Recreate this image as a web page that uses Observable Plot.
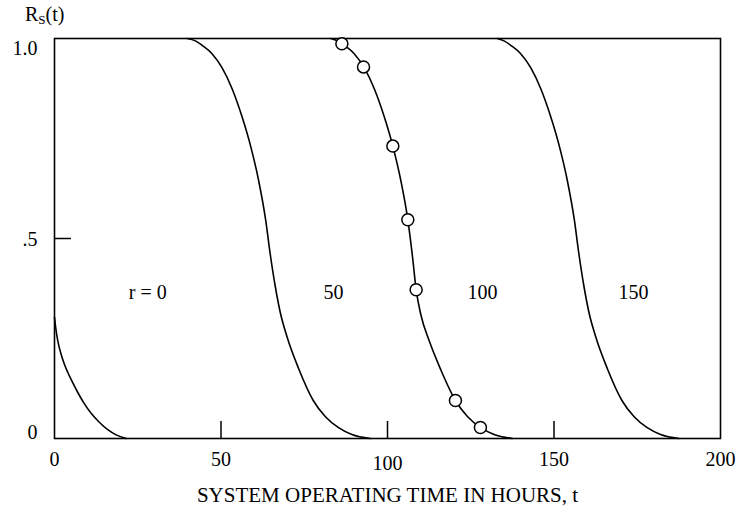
<!DOCTYPE html>
<html>
<head>
<meta charset="utf-8">
<script src="https://cdn.jsdelivr.net/npm/d3@7"></script>
<script src="https://cdn.jsdelivr.net/npm/@observablehq/plot@0.6"></script>
<style>
  body { margin: 0; background: #fff; }
  #wrap { position: relative; width: 740px; height: 509px; }
  #ytitle { position: absolute; left: 25px; top: 3px; font: 20px "Liberation Serif", "Times New Roman", serif; color: #000; line-height: 23px; }
  #ytitle sub { font-size: 13px; vertical-align: -3px; line-height: 0; }
</style>
</head>
<body>
<div id="wrap">
  <div id="ytitle">R<sub>S</sub>(t)</div>
</div>
<script>
// Curve r = 0
const t_r0 = [0, 0.4, 0.8, 1.3, 2, 3, 4, 5.5, 7, 8.8, 11, 13.3, 16, 18.5, 21.6];
const R_r0 = [0.303, 0.275, 0.253, 0.232, 0.21, 0.185, 0.165, 0.139, 0.115, 0.089, 0.063, 0.042, 0.022, 0.009, 0];
// Curve r = 50
const t_r50 = [39.9, 42.3, 44.3, 47.3, 50.3, 53.3, 56.3, 58.9, 61.3, 63.4, 64.8, 66.3, 67.8, 69.8, 73.3, 77.7, 81.3, 85.3, 89.3, 94.8];
const R_r50 = [1.0, 0.994, 0.983, 0.962, 0.927, 0.875, 0.805, 0.731, 0.645, 0.547, 0.46, 0.38, 0.315, 0.255, 0.175, 0.095, 0.055, 0.027, 0.01, 0];
// Curve r = 100
const t_r100 = [83, 85, 87, 90, 93, 96, 99, 101.6, 104, 106.1, 107.5, 108.6, 110, 112.5, 116, 120.4, 124, 128, 132, 137.5];
const R_r100 = [1.0, 0.994, 0.983, 0.962, 0.927, 0.875, 0.805, 0.731, 0.645, 0.547, 0.455, 0.372, 0.31, 0.245, 0.172, 0.095, 0.055, 0.027, 0.01, 0];
// Curve r = 150
const t_r150 = [133, 135, 137, 140, 143, 146, 149, 151.6, 154, 156.1, 157.5, 159, 160.5, 162.5, 166, 170.4, 174, 178, 182, 187.5];
const R_r150 = [1.0, 0.994, 0.983, 0.962, 0.927, 0.875, 0.805, 0.731, 0.645, 0.547, 0.46, 0.38, 0.315, 0.255, 0.175, 0.095, 0.055, 0.027, 0.01, 0];
// Observed points on the r = 100 curve
const obsT = [86.3, 92.8, 101.6, 106.1, 108.6, 120.4, 127.9];
const obsR = [0.987, 0.929, 0.731, 0.547, 0.372, 0.095, 0.0275];
// Curve labels
const curveLabels = ["r = 0", "50", "100", "150"];
const labelT = [28.0, 83.8, 128.5, 173.9];
const labelR = [0.364, 0.364, 0.364, 0.364];
// Axis ticks
const xTicks = [0, 50, 150, 200];
const xTickLow = [100];
const xInnerTicks = [50, 100, 150];
const yTicks = [0, 0.5, 1.0];
const yTickLabels = ["0", ".5", "1.0"];
const xTitle = "SYSTEM OPERATING TIME IN HOURS, t";

const toRows = (ts, rs, name) => ts.map((t, i) => ({t, R: rs[i], r: name}));
const curves = [
  ...toRows(t_r0, R_r0, "0"),
  ...toRows(t_r50, R_r50, "50"),
  ...toRows(t_r100, R_r100, "100"),
  ...toRows(t_r150, R_r150, "150")
];
const obs = obsT.map((t, i) => ({t, R: obsR[i]}));
const labels = curveLabels.map((s, i) => ({s, t: labelT[i], R: labelR[i]}));
const yLab = yTicks.map((v, i) => ({v, s: yTickLabels[i]}));

const font = '"Liberation Serif", "Times New Roman", serif';

const chart = Plot.plot({
  width: 740,
  height: 509,
  marginLeft: 54,
  marginRight: 20,
  marginTop: 38,
  marginBottom: 71,
  style: {fontFamily: font, fontSize: "20px", color: "#000", background: "#fff"},
  x: {domain: [0, 200]},
  y: {domain: [0, 1]},
  marks: [
    Plot.frame({stroke: "#000", strokeWidth: 1.6}),
    Plot.axisX({ticks: xTicks, tickSize: 0, tickPadding: 13, fontSize: 20, label: null}),
    Plot.axisX({ticks: xTickLow, tickSize: 0, tickPadding: 17, fontSize: 20, label: null}),
    Plot.axisX({ticks: xInnerTicks, tickSize: -17, strokeWidth: 1.5, tickFormat: () => "", label: null}),
    Plot.axisY({ticks: [0.5], tickSize: -17, strokeWidth: 1.5, tickFormat: () => "", label: null}),
    Plot.text(yLab.filter(d => d.v === 1), {x: 0, y: "v", text: "s", textAnchor: "end", dx: -17, dy: 10, fontSize: 20}),
    Plot.text(yLab.filter(d => d.v === 0.5), {x: 0, y: "v", text: "s", textAnchor: "end", dx: -17, dy: 1, fontSize: 20}),
    Plot.text(yLab.filter(d => d.v === 0), {x: 0, y: "v", text: "s", textAnchor: "end", dx: -17, dy: -6, fontSize: 20}),
    Plot.line(curves, {x: "t", y: "R", z: "r", stroke: "#000", strokeWidth: 1.6, curve: "monotone-x"}),
    Plot.dot(obs, {x: "t", y: "R", r: 6, fill: "#fff", stroke: "#000", strokeWidth: 1.5}),
    Plot.text(labels, {x: "t", y: "R", text: "s", fontSize: 20}),
    Plot.text([xTitle], {frameAnchor: "bottom", dy: 63, text: d => d, fontSize: 21})
  ]
});
document.getElementById("wrap").prepend(chart);
chart.style.position = "absolute";
chart.style.left = "0";
chart.style.top = "0";
</script>
</body>
</html>
